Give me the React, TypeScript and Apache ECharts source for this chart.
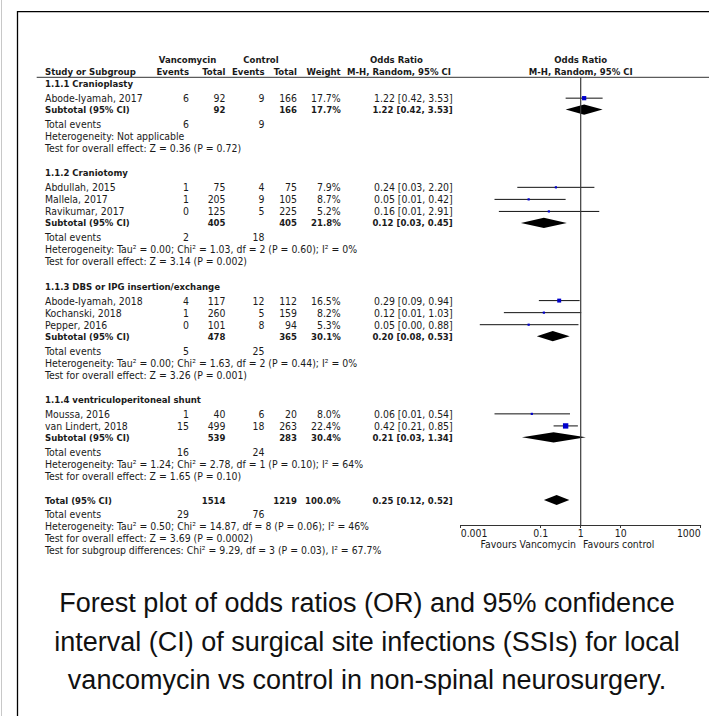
import React, { useEffect, useRef } from "react";
import * as echarts from "echarts";

// ---------------- data ----------------
const groupNames = [
  "1.1.1 Cranioplasty",
  "1.1.2 Craniotomy",
  "1.1.3 DBS or IPG insertion/exchange",
  "1.1.4 ventriculoperitoneal shunt",
];
const studyNames = [
  "Abode-Iyamah, 2017",
  "Abdullah, 2015",
  "Mallela, 2017",
  "Ravikumar, 2017",
  "Abode-Iyamah, 2018",
  "Kochanski, 2018",
  "Pepper, 2016",
  "Moussa, 2016",
  "van Lindert, 2018",
];
const studyGroup = [0, 1, 1, 1, 2, 2, 2, 3, 3];
const vancoEvents = [6, 1, 1, 0, 4, 1, 0, 1, 15];
const vancoTotal = [92, 75, 205, 125, 117, 260, 101, 40, 499];
const ctrlEvents = [9, 4, 9, 5, 12, 5, 8, 6, 18];
const ctrlTotal = [166, 75, 105, 225, 112, 159, 94, 20, 263];
const studyWeight = [17.7, 7.9, 8.7, 5.2, 16.5, 8.2, 5.3, 8.0, 22.4];
const studyOR = [1.22, 0.24, 0.05, 0.16, 0.29, 0.12, 0.05, 0.06, 0.42];
const studyLo = [0.42, 0.026, 0.007, 0.009, 0.09, 0.012, 0.003, 0.007, 0.21];
const studyHi = [3.53, 2.2, 0.42, 2.91, 0.94, 1.03, 0.88, 0.54, 0.85];

const subVancoTotal = [92, 405, 478, 539];
const subCtrlTotal = [166, 405, 365, 283];
const subWeight = [17.7, 21.8, 30.1, 30.4];
const subOR = [1.22, 0.12, 0.2, 0.21];
const subLo = [0.42, 0.032, 0.08, 0.034];
const subHi = [3.53, 0.45, 0.53, 1.34];
const subVancoEvents = [6, 2, 5, 16];
const subCtrlEvents = [9, 18, 25, 24];
const subHeterogeneity = [
  "Heterogeneity: Not applicable",
  "Heterogeneity: Tau² = 0.00; Chi² = 1.03, df = 2 (P = 0.60); I² = 0%",
  "Heterogeneity: Tau² = 0.00; Chi² = 1.63, df = 2 (P = 0.44); I² = 0%",
  "Heterogeneity: Tau² = 1.24; Chi² = 2.78, df = 1 (P = 0.10); I² = 64%",
];
const subOverallTest = [
  "Test for overall effect: Z = 0.36 (P = 0.72)",
  "Test for overall effect: Z = 3.14 (P = 0.002)",
  "Test for overall effect: Z = 3.26 (P = 0.001)",
  "Test for overall effect: Z = 1.65 (P = 0.10)",
];

const totalVanco = 1514;
const totalCtrl = 1219;
const totalWeight = 100.0;
const totalOR = 0.25;
const totalLo = 0.12;
const totalHi = 0.52;
const totalVancoEvents = 29;
const totalCtrlEvents = 76;
const totalHeterogeneity = "Heterogeneity: Tau² = 0.50; Chi² = 14.87, df = 8 (P = 0.06); I² = 46%";
const totalOverallTest = "Test for overall effect: Z = 3.69 (P = 0.0002)";
const subgroupDiffTest = "Test for subgroup differences: Chi² = 9.29, df = 3 (P = 0.03), I² = 67.7%";

const noEffectValue = 1;
const tickValues = [0.001, 0.1, 1, 10, 1000];
const tickLabels = ["0.001", "0.1", "1", "10", "1000"];
const favoursLeft = "Favours Vancomycin";
const favoursRight = "Favours control";

const captionLines = [
  "Forest plot of odds ratios (OR) and 95% confidence",
  "interval (CI) of surgical site infections (SSIs) for local",
  "vancomycin vs control in non-spinal neurosurgery.",
];

// ---------------- layout ----------------
const W = 709;
const H = 716;
const FONT = "'DejaVu Sans Condensed', 'DejaVu Sans', sans-serif";
const FS = 10.4;
const FS_BOLD = 9.5;
const TXT = "#1a1a1a";
const ROW0_Y = 83.7;
const LINE = 12.05;
const HEADER_LINE_Y = 77.3;
const AXIS_Y = 525;
const PLOT_LEFT = 460.7;
const PLOT_RIGHT = 700.7;
const COL = { name: 45, vE: 189, vT: 225.5, cE: 264.5, cT: 297, w: 340.7, ci: 452.7 };
const GAP = { header: 2.05, firstStudy: 1.2, study: 1, subtotal: 0.95, events: 1.2, het: 1, test: 1, total: 2, totalEvents: 1.15 };

type Row = { kind: string; u: number; g?: number; s?: number };

function buildRows(): Row[] {
  const rows: Row[] = [];
  let u = 0;
  groupNames.forEach((_, g) => {
    if (g > 0) u += GAP.header;
    rows.push({ kind: "header", u, g });
    let k = 0;
    studyGroup.forEach((sg, s) => {
      if (sg !== g) return;
      u += k === 0 ? GAP.firstStudy : GAP.study;
      k++;
      rows.push({ kind: "study", u, g, s });
    });
    u += GAP.subtotal;
    rows.push({ kind: "subtotal", u, g });
    u += GAP.events;
    rows.push({ kind: "events", u, g });
    u += GAP.het;
    rows.push({ kind: "het", u, g });
    u += GAP.test;
    rows.push({ kind: "test", u, g });
  });
  u += GAP.total;
  rows.push({ kind: "total", u });
  u += GAP.totalEvents;
  rows.push({ kind: "totalEvents", u });
  u += GAP.het;
  rows.push({ kind: "totalHet", u });
  u += GAP.test;
  rows.push({ kind: "totalTest", u });
  u += GAP.test;
  rows.push({ kind: "subgroupTest", u });
  return rows;
}

const ciText = (o: number, l: number, h: number) => `${o.toFixed(2)} [${l.toFixed(2)}, ${h.toFixed(2)}]`;

function txt(x: number, y: number, text: string, align: string = "left", bold = false, extra: any = {}) {
  return {
    type: "text",
    x,
    y,
    silent: true,
    style: {
      text,
      fill: TXT,
      fontFamily: FONT,
      fontSize: bold ? FS_BOLD : FS,
      fontWeight: bold ? "bold" : "normal",
      align,
      verticalAlign: "middle",
      ...extra,
    },
  };
}

function hline(x1: number, x2: number, y: number, stroke: string, lineWidth = 1) {
  return { type: "line", silent: true, shape: { x1, y1: y, x2, y2: y }, style: { stroke, lineWidth } };
}
function vline(x: number, y1: number, y2: number, stroke: string, lineWidth = 1) {
  return { type: "line", silent: true, shape: { x1: x, y1, x2: x, y2 }, style: { stroke, lineWidth } };
}

export default function App() {
  const ref = useRef<HTMLDivElement>(null);
  useEffect(() => {
    const chart = echarts.init(ref.current!, null, { renderer: "svg", width: W, height: H });
    const rows = buildRows();
    const yPix = (u: number) => ROW0_Y + u * LINE;
    const yMin = (HEADER_LINE_Y - ROW0_Y) / LINE;
    const yMax = (AXIS_Y - ROW0_Y) / LINE;

    const studyData: number[][] = [];
    const diamondData: number[][] = [];
    const g: any[] = [];

    // frame
    g.push(vline(1.5, 0, H, "#c8c8c8", 1));
    g.push(hline(17, W, 11.7, "#000", 1.3));
    g.push(vline(17.5, 11, H, "#000", 1.3));
    g.push(hline(36.7, W, HEADER_LINE_Y, "#333", 1));

    // headers
    const h1 = 59;
    const h2 = 71;
    g.push(txt(187.5, h1, "Vancomycin", "center", true));
    g.push(txt(261, h1, "Control", "center", true));
    g.push(txt(396.5, h1, "Odds Ratio", "center", true));
    g.push(txt(580.7, h1, "Odds Ratio", "center", true));
    g.push(txt(COL.name, h2, "Study or Subgroup", "left", true));
    g.push(txt(COL.vE, h2, "Events", "right", true));
    g.push(txt(COL.vT, h2, "Total", "right", true));
    g.push(txt(COL.cE, h2, "Events", "right", true));
    g.push(txt(COL.cT, h2, "Total", "right", true));
    g.push(txt(COL.w, h2, "Weight", "right", true));
    g.push(txt(399, h2, "M-H, Random, 95% CI", "center", true));
    g.push(txt(580.7, h2, "M-H, Random, 95% CI", "center", true));

    rows.forEach((r) => {
      const y = yPix(r.u);
      const gi = r.g as number;
      switch (r.kind) {
        case "header":
          g.push(txt(COL.name, y, groupNames[gi], "left", true));
          break;
        case "study": {
          const s = r.s as number;
          g.push(txt(COL.name, y, studyNames[s]));
          g.push(txt(COL.vE, y, String(vancoEvents[s]), "right"));
          g.push(txt(COL.vT, y, String(vancoTotal[s]), "right"));
          g.push(txt(COL.cE, y, String(ctrlEvents[s]), "right"));
          g.push(txt(COL.cT, y, String(ctrlTotal[s]), "right"));
          g.push(txt(COL.w, y, studyWeight[s].toFixed(1) + "%", "right"));
          g.push(txt(COL.ci, y, ciText(studyOR[s], studyLo[s], studyHi[s]), "right"));
          studyData.push([studyOR[s], studyLo[s], studyHi[s], r.u, studyWeight[s]]);
          break;
        }
        case "subtotal":
          g.push(txt(COL.name, y, "Subtotal (95% CI)", "left", true));
          g.push(txt(COL.vT, y, String(subVancoTotal[gi]), "right", true));
          g.push(txt(COL.cT, y, String(subCtrlTotal[gi]), "right", true));
          g.push(txt(COL.w, y, subWeight[gi].toFixed(1) + "%", "right", true));
          g.push(txt(COL.ci, y, ciText(subOR[gi], subLo[gi], subHi[gi]), "right", true));
          diamondData.push([subOR[gi], subLo[gi], subHi[gi], r.u]);
          break;
        case "events":
          g.push(txt(COL.name, y, "Total events"));
          g.push(txt(COL.vE, y, String(subVancoEvents[gi]), "right"));
          g.push(txt(COL.cE, y, String(subCtrlEvents[gi]), "right"));
          break;
        case "het":
          g.push(txt(COL.name, y, subHeterogeneity[gi]));
          break;
        case "test":
          g.push(txt(COL.name, y, subOverallTest[gi]));
          break;
        case "total":
          g.push(txt(COL.name, y, "Total (95% CI)", "left", true));
          g.push(txt(COL.vT, y, String(totalVanco), "right", true));
          g.push(txt(COL.cT, y, String(totalCtrl), "right", true));
          g.push(txt(COL.w, y, totalWeight.toFixed(1) + "%", "right", true));
          g.push(txt(COL.ci, y, ciText(totalOR, totalLo, totalHi), "right", true));
          diamondData.push([totalOR, totalLo, totalHi, r.u]);
          break;
        case "totalEvents":
          g.push(txt(COL.name, y, "Total events"));
          g.push(txt(COL.vE, y, String(totalVancoEvents), "right"));
          g.push(txt(COL.cE, y, String(totalCtrlEvents), "right"));
          break;
        case "totalHet":
          g.push(txt(COL.name, y, totalHeterogeneity));
          break;
        case "totalTest":
          g.push(txt(COL.name, y, totalOverallTest));
          break;
        case "subgroupTest":
          g.push(txt(COL.name, y, subgroupDiffTest));
          break;
      }
    });

    // favours labels
    g.push(txt(576, 544, favoursLeft, "right"));
    g.push(txt(583, 544, favoursRight, "left"));

    // caption
    captionLines.forEach((line, i) => {
      g.push({
        type: "text",
        x: 367,
        y: 603 + i * 38.5,
        silent: true,
        style: {
          text: line,
          fill: "#111",
          fontFamily: "'Liberation Sans', Arial, sans-serif",
          fontSize: 27,
          align: "center",
          verticalAlign: "middle",
        },
      });
    });

    const fmtTick = (v: number) => {
      const i = tickValues.findIndex((t) => Math.abs(Math.log10(t) - Math.log10(v)) < 1e-6);
      return i >= 0 ? tickLabels[i] : "";
    };

    const option: any = {
      animation: false,
      backgroundColor: "#fff",
      grid: { left: PLOT_LEFT, right: W - PLOT_RIGHT, top: HEADER_LINE_Y, bottom: H - AXIS_Y, containLabel: false },
      xAxis: {
        type: "log",
        logBase: 10,
        min: 0.001,
        max: 1000,
        position: "bottom",
        axisLine: { show: true, onZero: false, lineStyle: { color: "#333", width: 1 } },
        axisTick: { show: true, customValues: tickValues, length: 3, lineStyle: { color: "#333" } },
        axisLabel: {
          show: true,
          customValues: tickValues,
          formatter: fmtTick,
          margin: 3,
          fontFamily: FONT,
          fontSize: FS,
          color: TXT,
          alignMinLabel: "left",
          alignMaxLabel: "right",
        },
        splitLine: { show: false },
      },
      yAxis: { type: "value", inverse: true, min: yMin, max: yMax, show: false },
      series: [
        {
          type: "custom",
          name: "studies",
          clip: false,
          silent: true,
          z: 5,
          encode: { x: [0, 1, 2], y: 3 },
          data: studyData,
          renderItem: (params: any, api: any) => {
            const y = api.value(3);
            const p = api.coord([api.value(0), y]);
            const l = api.coord([api.value(1), y]);
            const h = api.coord([api.value(2), y]);
            const s = Math.max(2.2, api.value(4) * 0.24);
            return {
              type: "group",
              children: [
                { type: "line", shape: { x1: l[0], y1: p[1], x2: h[0], y2: p[1] }, style: { stroke: "#111", lineWidth: 1 } },
                { type: "rect", shape: { x: p[0] - s / 2, y: p[1] - s / 2, width: s, height: s }, style: { fill: "#0000cc" } },
              ],
            };
          },
        },
        {
          type: "custom",
          name: "pooled",
          clip: false,
          silent: true,
          z: 5,
          encode: { x: [0, 1, 2], y: 3 },
          data: diamondData,
          renderItem: (params: any, api: any) => {
            const y = api.value(3);
            const c = api.coord([api.value(0), y]);
            const top = api.coord([api.value(0), y - 0.42]);
            const bot = api.coord([api.value(0), y + 0.42]);
            const l = api.coord([api.value(1), y]);
            const h = api.coord([api.value(2), y]);
            return {
              type: "polygon",
              shape: { points: [[l[0], c[1]], [c[0], top[1]], [h[0], c[1]], [c[0], bot[1]]] },
              style: { fill: "#000" },
            };
          },
        },
      ],
      graphic: g,
    };
    chart.setOption(option);

    // no-effect line, positioned through the x axis scale
    const p1 = chart.convertToPixel({ gridIndex: 0 }, [noEffectValue, yMin]) as number[];
    const p2 = chart.convertToPixel({ gridIndex: 0 }, [noEffectValue, yMax]) as number[];
    if (p1 && p2 && isFinite(p1[0]) && isFinite(p1[1]) && isFinite(p2[1])) {
      const g2 = g.slice();
      g2.push({
        type: "rect",
        silent: true,
        z: 10,
        shape: { x: p1[0] - 0.6, y: p1[1], width: 1.2, height: p2[1] - p1[1] },
        style: { fill: "#3a3a3a" },
      });
      chart.setOption({ graphic: g2 });
    }
    return () => chart.dispose();
  }, []);
  return <div ref={ref} style={{ position: "absolute", left: 0, top: 0, width: W, height: H, background: "#fff" }} />;
}
